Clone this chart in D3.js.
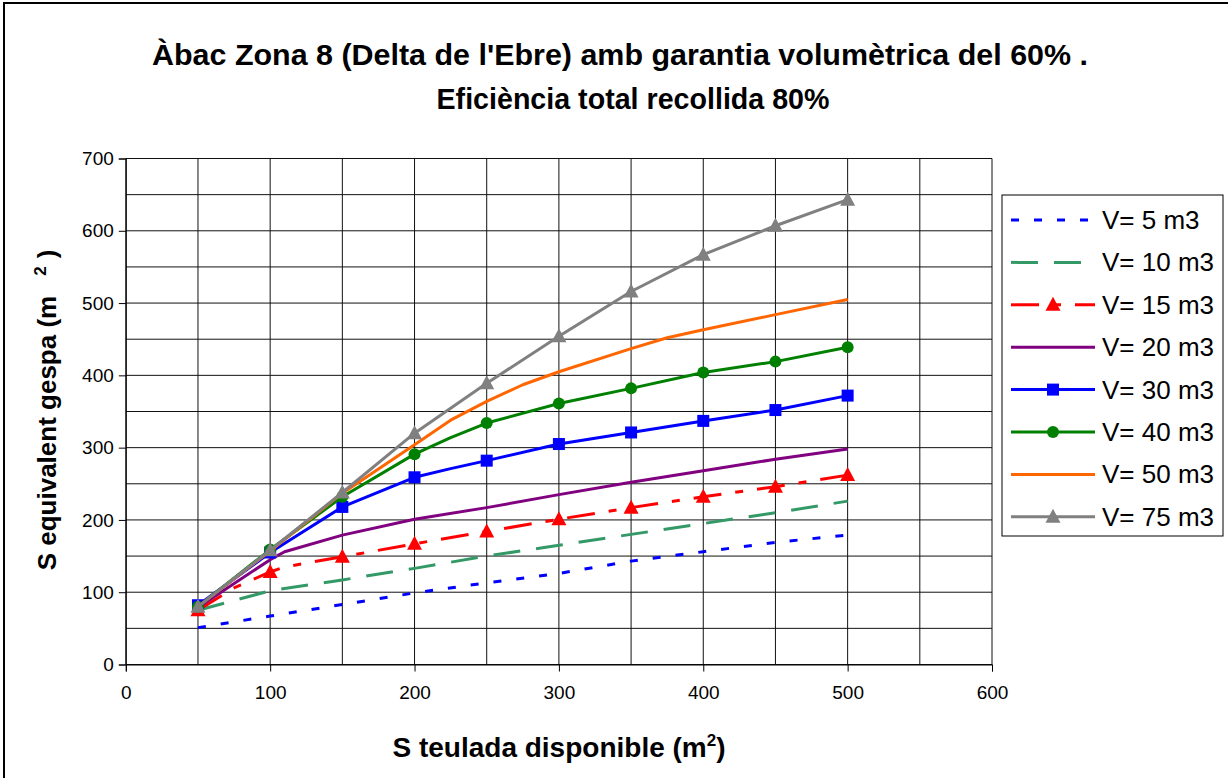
<!DOCTYPE html>
<html>
<head>
<meta charset="utf-8">
<script src="https://cdn.jsdelivr.net/npm/d3@7"></script>
<style>
  html, body { margin: 0; padding: 0; background: #fff; }
  svg { display: block; font-family: "Liberation Sans", Arial, sans-serif; }
</style>
</head>
<body>
<svg id="chart" width="1228" height="778"></svg>
<script>
// Roof surface available (m2) — x positions of the marked points
const teulada = [50, 100, 150, 200, 250, 300, 350, 400, 450, 500];

// Equivalent lawn surface (m2) for each tank volume
const v5  = [51, 67, 83, 99, 113, 126, 143, 156, 169, 179];
const v10 = [75, 102, 117, 133, 150, 165, 180, 195, 210, 226];
const v15 = [75, 128, 149, 167, 184, 201, 217, 232, 246, 262];
const v20 = [79, 145, 179, 201, 217, 235, 252, 268, 284, 298];
const v30 = [82, 155, 218, 259, 282, 305, 321, 337, 352, 372];
const v40 = [80, 159, 232, 291, 334, 361, 382, 404, 419, 439];
const v50 = [80, 157, 237, 304, 364, 405, 437, 463, 484, 505];
const v75 = [80, 158, 238, 320, 389, 454, 516, 567, 607, 643];

// Intermediate points of the curves (drawn without a marker)
const v15Mid = [[75, 106], [110, 135]];
const v20Mid = [[110, 156]];
const v30Mid = [[225, 271]];
const v40Mid = [[225, 314]];
const v50Mid = [[225, 338], [275, 387], [375, 452]];

const seriesLabels = ["V= 5 m3", "V= 10 m3", "V= 15 m3", "V= 20 m3", "V= 30 m3", "V= 40 m3", "V= 50 m3", "V= 75 m3"];
const xTicks = [0, 100, 200, 300, 400, 500, 600];
const yTicks = [0, 100, 200, 300, 400, 500, 600, 700];

const styles = [
  { color: "#0000FF", dash: "8,15",        marker: null },
  { color: "#339966", dash: "27,16",       marker: null },
  { color: "#FF0000", dash: "28,14,8,14",  marker: "triangle" },
  { color: "#800080", dash: null,          marker: null },
  { color: "#0000FF", dash: null,          marker: "square" },
  { color: "#008000", dash: null,          marker: "circle" },
  { color: "#FF6600", dash: null,          marker: null },
  { color: "#808080", dash: null,          marker: "triangle" }
];

const values = [v5, v10, v15, v20, v30, v40, v50, v75];
const mids = [[], [], v15Mid, v20Mid, v30Mid, v40Mid, v50Mid, []];

const series = values.map((vals, i) => {
  const pts = teulada.map((t, j) => ({ x: t, y: vals[j], marked: true }))
    .concat(mids[i].map(d => ({ x: d[0], y: d[1], marked: false })))
    .sort((a, b) => a.x - b.x);
  return { label: seriesLabels[i], points: pts, ...styles[i] };
});

const svg = d3.select("#chart");

// outer chart frame
svg.append("rect")
  .attr("x", 4).attr("y", 3).attr("width", 1240).attr("height", 790)
  .attr("fill", "#fff").attr("stroke", "#000").attr("stroke-width", 2);

const plot = { left: 125.8, right: 992, top: 158.5, bottom: 664.5 };
const x = d3.scaleLinear().domain([0, 600]).range([plot.left, plot.right]);
const y = d3.scaleLinear().domain([0, 700]).range([plot.bottom, plot.top]);

// grid every 50 units
const gridX = d3.range(0, 601, 50);
const gridY = d3.range(0, 701, 50);
const grid = svg.append("g").attr("stroke", "#111").attr("stroke-width", 1);
grid.selectAll("line.gx").data(gridX).join("line").attr("class", "gx")
  .attr("x1", d => x(d)).attr("x2", d => x(d))
  .attr("y1", plot.top).attr("y2", plot.bottom);
grid.selectAll("line.gy").data(gridY).join("line").attr("class", "gy")
  .attr("y1", d => y(d)).attr("y2", d => y(d))
  .attr("x1", plot.left).attr("x2", plot.right);

// axes
const yAxis = svg.append("g")
  .attr("transform", `translate(${plot.left},0)`)
  .call(d3.axisLeft(y).tickValues(yTicks).tickSize(7).tickPadding(5).tickFormat(d3.format("d")));
const xAxis = svg.append("g")
  .attr("transform", `translate(0,${plot.bottom})`)
  .call(d3.axisBottom(x).tickValues(xTicks).tickSize(7).tickPadding(14).tickFormat(d3.format("d")));
[xAxis, yAxis].forEach(a => {
  a.selectAll("path.domain").attr("stroke", "#000");
  a.selectAll(".tick line").attr("stroke", "#000");
  a.selectAll(".tick text").attr("fill", "#000").style("font-size", "19px")
    .style("font-family", "'Liberation Sans', Arial, sans-serif");
});

// series lines
const line = d3.line().x(d => x(d.x)).y(d => y(d.y));
const marks = svg.append("g");

function drawMarker(g, type, cx, cy, color) {
  if (type === "square") {
    g.append("rect").attr("x", cx - 6).attr("y", cy - 6).attr("width", 12).attr("height", 12).attr("fill", color);
  } else if (type === "circle") {
    g.append("circle").attr("cx", cx).attr("cy", cy).attr("r", 6).attr("fill", color);
  } else if (type === "triangle") {
    g.append("path")
      .attr("d", `M${cx},${cy - 8}L${cx + 7.5},${cy + 6}L${cx - 7.5},${cy + 6}Z`)
      .attr("fill", color);
  }
}

series.forEach(s => {
  const g = marks.append("g");
  g.append("path")
    .attr("d", line(s.points))
    .attr("fill", "none")
    .attr("stroke", s.color)
    .attr("stroke-width", 3)
    .attr("stroke-linejoin", "round")
    .attr("stroke-dasharray", s.dash);
  if (s.marker) {
    s.points.filter(p => p.marked).forEach(p => drawMarker(g, s.marker, x(p.x), y(p.y), s.color));
  }
});

// legend
const legend = svg.append("g");
legend.append("rect")
  .attr("x", 1002).attr("y", 195).attr("width", 221).attr("height", 341)
  .attr("fill", "#fff").attr("stroke", "#000").attr("stroke-width", 1);
series.forEach((s, i) => {
  const cy = 220 + i * 42.4;
  const g = legend.append("g");
  g.append("line")
    .attr("x1", 1011).attr("x2", 1095).attr("y1", cy).attr("y2", cy)
    .attr("stroke", s.color).attr("stroke-width", 3)
    .attr("stroke-dasharray", s.dash);
  if (s.marker) drawMarker(g, s.marker, 1053, cy, s.color);
  g.append("text")
    .attr("x", 1102).attr("y", cy + 9)
    .style("font-size", "26px").attr("fill", "#000")
    .text(s.label);
});

// titles
const title = svg.append("g").attr("font-weight", "bold").attr("fill", "#000").attr("text-anchor", "middle");
title.append("text").attr("x", 620).attr("y", 65).style("font-size", "30px")
  .attr("textLength", 936).attr("lengthAdjust", "spacingAndGlyphs")
  .text("Àbac Zona 8 (Delta de l'Ebre) amb garantia volumètrica del 60% .");
title.append("text").attr("x", 633).attr("y", 109).style("font-size", "30px")
  .attr("textLength", 393).attr("lengthAdjust", "spacingAndGlyphs")
  .text("Eficiència total recollida 80%");

// x axis title
const xt = svg.append("text")
  .attr("x", 559).attr("y", 757).attr("text-anchor", "middle")
  .attr("font-weight", "bold").style("font-size", "28px").attr("fill", "#000");
xt.append("tspan").text("S teulada disponible (m");
xt.append("tspan").attr("dy", -11).style("font-size", "17px").text("2");
xt.append("tspan").attr("dy", 11).text(")");

// y axis title
const yt = svg.append("text")
  .attr("transform", "translate(56,410) rotate(-90)")
  .attr("text-anchor", "middle")
  .attr("font-weight", "bold").style("font-size", "26px").attr("fill", "#000");
yt.append("tspan").text("S equivalent gespa (m");
yt.append("tspan").attr("dx", 20).attr("dy", -10).style("font-size", "17px").text("2");
yt.append("tspan").attr("dx", 8).attr("dy", 10).text(")");
</script>
</body>
</html>
